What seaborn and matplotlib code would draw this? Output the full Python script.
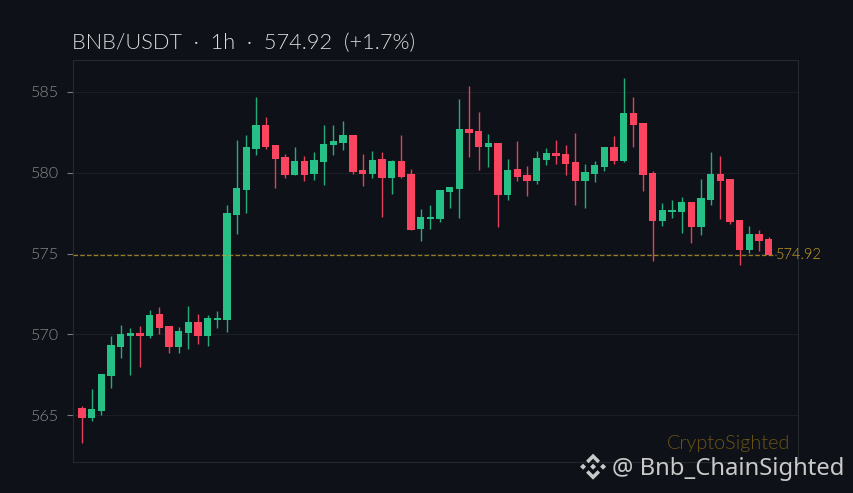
import numpy as np
import pandas as pd
import seaborn as sns
import matplotlib.pyplot as plt
from matplotlib.patches import Polygon

# hourly candles
opens = [565.45, 564.85, 565.27, 567.44, 569.24, 569.92, 570.10, 569.92, 571.28, 570.54, 569.24, 570.10,
         570.79, 569.92, 570.91, 570.91, 577.37, 578.91, 581.44, 582.92, 581.69, 580.95, 579.84, 580.70,
         579.90, 580.64, 581.69, 581.81, 582.30, 580.14, 579.90, 580.82, 579.65, 580.70, 579.90, 576.50,
         577.12, 577.12, 578.79, 578.97, 582.67, 582.55, 581.56, 581.81, 578.60, 580.20, 579.84, 579.47,
         580.76, 581.19, 581.13, 580.64, 579.47, 579.90, 580.33, 581.56, 580.70, 583.66, 583.05, 579.96,
         577.00, 577.55, 577.55, 578.17, 576.63, 578.29, 579.90, 579.59, 577.06, 575.20, 576.19, 575.88]
closes = [564.85, 565.40, 567.56, 569.36, 570.04, 570.10, 569.92, 571.22, 570.41, 569.24, 570.23, 570.79,
          569.92, 571.03, 571.03, 577.48, 579.03, 581.56, 582.92, 581.56, 580.82, 579.84, 580.70, 579.84,
          580.76, 581.75, 581.93, 582.30, 580.02, 579.90, 580.76, 579.65, 580.70, 579.71, 576.44, 577.24,
          577.24, 578.91, 579.09, 582.67, 582.43, 581.56, 581.81, 578.60, 580.14, 579.71, 579.47, 580.88,
          581.19, 581.00, 580.51, 579.47, 580.02, 580.45, 581.56, 580.70, 583.66, 582.92, 579.84, 577.00,
          577.67, 577.67, 578.17, 576.63, 578.42, 579.90, 579.47, 576.93, 575.20, 576.19, 575.76, 574.92]
highs = [565.58, 566.63, 567.56, 569.92, 570.60, 570.41, 570.54, 571.53, 571.71, 570.54, 570.48, 571.78,
         571.28, 571.22, 571.47, 577.98, 582.00, 582.30, 584.65, 583.42, 581.70, 581.13, 581.56, 581.00,
         581.26, 582.92, 582.92, 583.17, 582.30, 581.13, 581.32, 581.26, 580.76, 582.30, 580.20, 577.74,
         577.98, 578.95, 579.10, 584.53, 585.33, 583.72, 582.37, 581.85, 580.82, 581.93, 580.39, 581.32,
         581.50, 582.00, 581.69, 582.43, 580.51, 580.70, 581.60, 582.24, 585.88, 584.65, 583.10, 580.08,
         578.10, 578.29, 578.48, 578.20, 579.59, 581.26, 581.00, 579.62, 577.08, 576.69, 576.44, 576.00]
lows = [563.28, 564.65, 565.00, 566.70, 568.55, 567.50, 568.00, 569.80, 570.00, 568.86, 568.86, 569.11,
        569.42, 569.30, 570.41, 570.17, 576.19, 577.53, 581.07, 581.48, 579.03, 579.65, 579.84, 579.47,
        579.53, 579.22, 581.07, 581.38, 579.90, 579.16, 579.65, 577.24, 578.66, 579.65, 576.44, 575.76,
        576.50, 576.93, 577.80, 577.18, 580.95, 580.14, 580.33, 576.63, 578.29, 579.47, 578.54, 579.28,
        580.45, 580.51, 579.84, 577.98, 577.80, 579.40, 580.08, 580.51, 580.65, 581.56, 578.85, 574.53,
        576.69, 577.18, 576.26, 575.64, 576.13, 577.98, 577.12, 576.81, 574.28, 575.02, 575.14, 574.92]

y_ticks = [565, 570, 575, 580, 585]
last_price = 574.92
title_text = "BNB/USDT  ·  1h  ·  574.92  (+1.7%)"

BG = "#0e1118"
UP = "#26bf86"
DOWN = "#fb4560"
GOLD = "#c9a227"
THIN = 300

sns.set_theme(style="dark", rc={"axes.facecolor": BG, "figure.facecolor": BG})
plt.rcParams["font.family"] = ["Lato", "DejaVu Sans"]

df = pd.DataFrame({"open": opens, "close": closes, "high": highs, "low": lows})
df["t"] = np.arange(len(df))
df["side"] = np.where(df["close"] >= df["open"], "up", "down")
df["base"] = df[["open", "close"]].min(axis=1)
df["size"] = (df["close"] - df["open"]).abs()
palette = {"up": UP, "down": DOWN}

fig = plt.figure(figsize=(8.531, 4.931), dpi=100)
ax = fig.add_axes([72.5 / 853, 1 - 461.7 / 493, 725.8 / 853, 401.2 / 493])

for side, part in df.groupby("side"):
    sns.barplot(data=part, x="t", y="size", bottom=part["base"].values, color=palette[side],
                native_scale=True, width=0.76, saturation=1, errorbar=None,
                linewidth=0, zorder=3, ax=ax)
    ax.vlines(part["t"], part["low"], part["high"], color=palette[side], lw=1.0, alpha=0.9, zorder=2)

ax.hlines(last_price, -0.98, 71.7, color=GOLD, lw=0.9, alpha=0.75, linestyles=(0, (3.6, 1.8)), zorder=4)
ax.text(71.75, last_price, "574.92", color=GOLD, fontsize=10.5, fontweight=THIN, va="center", ha="left", zorder=5)

ax.set_xlim(-0.98, 74.06)
ax.set_ylim(562.13, 586.94)
ax.set_yticks(y_ticks)
ax.set_xticks([])
ax.set_xlabel("")
ax.set_ylabel("")
ax.grid(axis="y", color="#1b1f25", lw=0.8)
ax.set_axisbelow(True)
ax.tick_params(axis="y", left=True, length=4, width=0.8, color="#7a7a7a", labelcolor="#8c8c8c",
               labelsize=11.6, pad=6)
for label in ax.get_yticklabels():
    label.set_fontweight(THIN)
for spine in ax.spines.values():
    spine.set_color("#25282d")
    spine.set_linewidth(0.8)

fig.text(72 / 853, 1 - 49 / 493, title_text, color="#dcdcdc", fontsize=15.7, fontweight=THIN, ha="left", va="baseline")
fig.text(790 / 853, 1 - 449 / 493, "CryptoSighted", color="#6b5515", fontsize=14.3, fontweight=THIN, ha="right", va="baseline")
fig.text(844 / 853, 1 - 475 / 493, "@ Bnb_ChainSighted", color="#c9c9c9", fontsize=17.2, ha="right",
         va="baseline", family="Noto Sans")

# little diamond logo next to the handle
over = fig.add_axes([0, 0, 1, 1])
over.set_xlim(0, 853)
over.set_ylim(493, 0)
over.axis("off")
cx, cy = 593, 466.7
logo = [
    [(-13, 0), (-10, -3), (-7, 0), (-10, 3)],
    [(13, 0), (10, -3), (7, 0), (10, 3)],
    [(0, -13), (7, -6), (4.5, -3.5), (0, -8), (-4.5, -3.5), (-7, -6)],
    [(0, 13), (7, 6), (4.5, 3.5), (0, 8), (-4.5, 3.5), (-7, 6)],
    [(0, -3), (3, 0), (0, 3), (-3, 0)],
]
for shape in logo:
    over.add_patch(Polygon([(cx + px, cy + py) for px, py in shape], closed=True, color="#c9c9c9", lw=0))

fig.savefig("out.png", dpi=100, facecolor=BG)
